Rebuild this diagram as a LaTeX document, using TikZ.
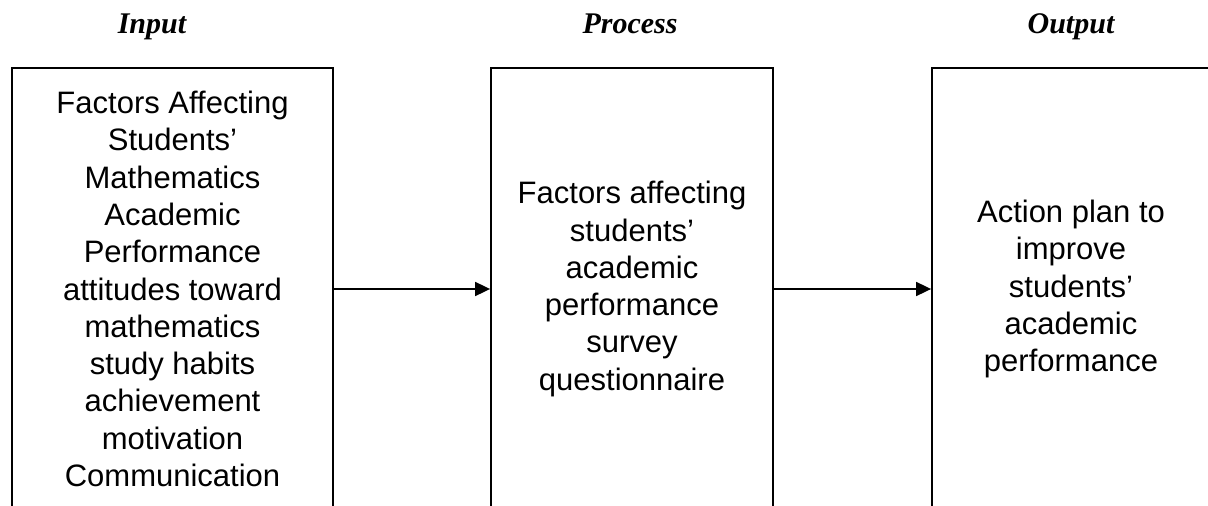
\documentclass[tikz,border=0pt]{standalone}
\usepackage{fontspec}
\setmainfont{Liberation Sans}
\newfontfamily\headfont{Liberation Serif}
\usetikzlibrary{positioning,arrows.meta}

\begin{document}
\begin{tikzpicture}[x=1pt, y=-1pt,
    stagebox/.style={draw, line width=1.8pt, minimum height=442pt, inner sep=0pt,
      align=center, font=\fontsize{31}{37.3}\selectfont},
    stagehead/.style={anchor=base, font=\headfont\bfseries\itshape\fontsize{30}{34}\selectfont},
    flow/.style={-{Triangle[length=15pt, width=14pt]}, line width=1.8pt}]
    \useasboundingbox (0,0) rectangle (1208,506);
    \clip (0,0) rectangle (1208,506);

    % the three stages, open at the foot of the page
    \node[stagebox, minimum width=321pt] (inbox) at (172.5,289)
    {Factors Affecting\\ Students’\\ Mathematics\\ Academic\\ Performance\\
     attitudes toward\\ mathematics\\ study habits\\ achievement\\ motivation\\ Communication};
    \node[stagebox, minimum width=282pt] (procbox) at (632,289)
    {Factors affecting\\ students’\\ academic\\ performance\\ survey\\ questionnaire};
    \node[stagebox, minimum width=278pt] (outbox) at (1071,289)
    {Action plan to\\ improve\\ students’\\ academic\\ performance};

    \node[stagehead] (inhead) at (152,34) {Input};
    \node[stagehead] (prochead) at (630,34) {Process};
    \node[stagehead] (outhead) at (1071,34) {Output};

    \draw[flow] (inbox.east) -- (procbox.west);
    \draw[flow] (procbox.east) -- (outbox.west);
\end{tikzpicture}
\end{document}
